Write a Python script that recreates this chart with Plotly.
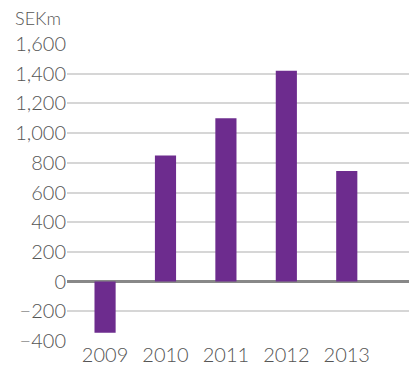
import plotly.graph_objects as go

years = [2009, 2010, 2011, 2012, 2013]
values = [-345, 850, 1100, 1420, 745]
tick_vals = [-400, -200, 0, 200, 400, 600, 800, 1000, 1200, 1400, 1600]
tick_text = ["\u2212400", "\u2212200", "0", "200", "400", "600", "800", "1,000", "1,200", "1,400", "1,600"]
unit_label = "SEKm"

fig = go.Figure()
fig.add_trace(go.Bar(x=years, y=values, width=0.35, marker=dict(color="#6d2c8e", line=dict(width=0))))

tf = dict(family="Lato, sans-serif", size=20, color="#555555", weight=300)
fig.update_layout(
    width=409, height=365,
    margin=dict(l=67, r=0, t=44, b=24, autoexpand=False),
    plot_bgcolor="white", paper_bgcolor="white",
    showlegend=False,
    font=dict(family="Lato, sans-serif", color="#555555", size=20),
    xaxis=dict(range=[2008.37, 2014.03], tickmode="array", tickvals=years,
               ticktext=[str(y) for y in years], showgrid=False, zeroline=False,
               showline=False, ticks="", tickfont=tf, ticklabelstandoff=0, automargin=False),
    yaxis=dict(range=[-400, 1600], tickmode="array", tickvals=tick_vals, ticktext=tick_text,
               showgrid=True, gridcolor="#d6d6d6", gridwidth=2,
               zeroline=True, zerolinecolor="#888888", zerolinewidth=3,
               showline=False, ticks="", tickfont=tf, automargin=False),
    annotations=[dict(text=unit_label, xref="paper", yref="paper", x=0, y=1, xanchor="right",
                      yanchor="bottom", xshift=-4, yshift=13, showarrow=False,
                      font=dict(family="Lato, sans-serif", size=18, color="#555555", weight=300))],
)
fig.write_html("out.html")
